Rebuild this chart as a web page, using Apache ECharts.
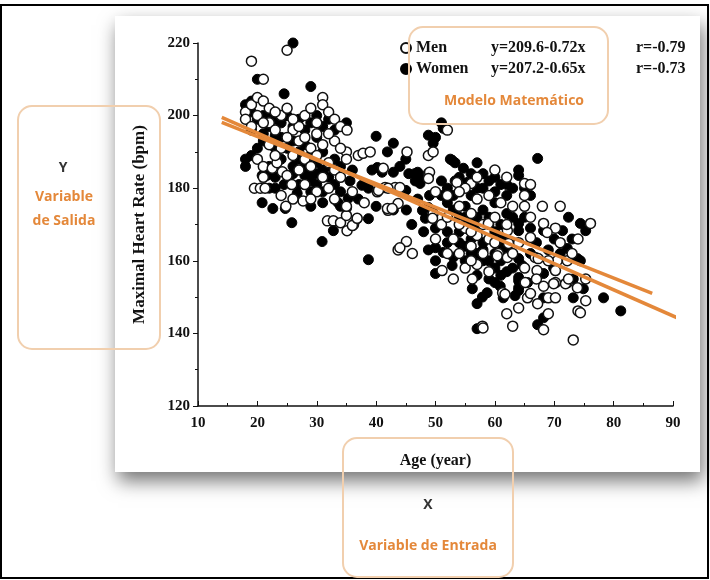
<!DOCTYPE html>
<html>
<head>
<meta charset="utf-8">
<script src="https://cdn.jsdelivr.net/npm/echarts@6/dist/echarts.min.js"></script>
<style>
    html, body { margin: 0; padding: 0; background: #fff; }
    #chart { width: 710px; height: 580px; }
</style>
</head>
<body>
<div id="chart"></div>
<script>
// data: [age, max heart rate]
const menPoints = [
    [25, 218], [19, 215], [21, 210], [31, 205], [31, 203], [18, 201], [19, 203], [20, 205], [21, 204], [22, 202],
    [20, 200], [22, 198], [23, 196], [24, 200], [25, 202], [26, 196], [27, 197], [28, 200], [29, 202], [30, 198],
    [32, 201], [33, 199], [34, 197], [25, 194], [27, 193], [29, 191], [31, 192], [33, 193], [22, 192], [20, 188],
    [21, 186], [19.5, 180], [20.5, 180], [21.3, 180], [22.5, 185.5], [23.3, 187], [24.2, 184.5], [25, 183.5], [25.8, 181], [24.8, 175],
    [27.7, 176.5], [27, 185], [28, 188], [29, 186], [30, 189], [32, 187], [33, 185], [31, 183], [30, 179], [28, 181],
    [32, 180], [34, 183], [31.8, 171], [32.8, 171], [34, 170.5], [35.1, 168.3], [36.2, 170], [36, 169.7], [36.8, 171.7], [35, 174.7],
    [35, 172.5], [35, 175], [35.1, 196], [35, 190], [35, 188], [37, 189], [37.8, 189.6], [39, 190], [40.2, 179], [41.5, 180.2],
    [43.2, 180.2], [42, 180], [40.4, 179.4], [44, 180.2], [41.2, 185.5], [42, 173.9], [43.7, 175.8], [41.9, 174.4], [42.7, 174.4], [43.7, 163],
    [45.1, 165.3], [46.1, 162], [44, 163.6], [45.2, 190], [48.8, 189], [49.6, 190], [48.8, 184], [49, 184.4], [48.8, 182.7], [52, 196],
    [53.6, 181.6], [56, 181.3], [49.6, 173], [49.5, 171.7], [51.1, 157.3], [53, 155], [56.2, 155], [57.9, 142], [58, 141.5], [55, 180],
    [57, 177], [54, 175], [56, 173], [58, 170], [55, 169], [57, 167], [53, 166], [51, 170], [59, 166], [58.9, 170.3],
    [62.1, 168.3], [62.3, 164.8], [60.6, 162], [60.4, 161.4], [62.1, 160.9], [66.8, 160.9], [67.3, 160.6], [70.5, 160], [72.2, 160], [65, 181.3],
    [65, 178], [65, 175], [66, 181], [62, 183], [60, 185], [71, 175], [68.2, 170.3], [70.2, 169], [68.8, 167.8], [76.1, 170.3],
    [74, 166], [66, 166.4], [67.1, 157.3], [70.2, 157.3], [68.2, 153], [70.2, 154], [72.2, 154], [75.3, 155], [71.9, 153.7], [69.9, 153.7],
    [61.3, 151.2], [61.7, 150.8], [62, 145.4], [63, 142], [68.2, 141], [69, 149.8], [70.2, 149.8], [67.2, 148.2], [69, 145.4], [75.3, 149],
    [74, 146.2], [74.4, 145.7], [73.2, 138.2], [72.4, 155], [73.9, 152.6], [65.1, 154], [65.5, 149.8], [56, 164], [54, 162], [57, 159],
    [59, 157], [55, 158], [18, 199], [19, 197], [21, 198], [23, 201], [26, 199], [24, 191], [26, 189], [28, 194],
    [30, 195], [32, 195], [34, 191], [23, 189], [21, 183], [24, 178], [26, 177], [29, 177], [33, 177], [36, 179],
    [38, 176], [50, 179], [52, 178], [54, 179], [57, 183], [59, 178], [61, 176], [63, 175], [60, 172], [52, 172],
    [54, 170], [56, 168], [58, 162], [60, 165], [62, 170], [64, 165], [66, 172], [68, 175], [50, 166], [52, 162],
    [56, 160], [63, 162], [65, 158], [67, 155], [69, 160], [71, 165], [73, 162], [64, 147], [66, 151]
]
const womenPoints = [
    [26, 220], [20, 210], [29, 208], [24.5, 206], [19, 204], [18, 203], [19, 201], [20, 199], [21, 200], [22, 201],
    [23, 199], [24, 198], [22, 197], [25, 200], [26, 197], [27, 199], [28, 196], [29, 198], [30, 200], [31, 197],
    [32, 199], [33, 196], [30, 194], [28, 192], [26, 193], [24, 194], [23, 191], [21, 193], [20, 191], [19, 189],
    [18, 188], [18, 186], [20.8, 183.5], [21.6, 183.5], [22, 180], [23, 180], [24.5, 181], [25.3, 182], [26.7, 178.6], [20.8, 176],
    [22.6, 174.4], [24.7, 174.4], [25.8, 170.5], [29, 175], [30.9, 165.3], [32.8, 168.3], [28, 186], [29, 184], [30, 187], [31, 185],
    [32, 183], [30, 181], [31, 179], [29, 182], [33, 188], [34, 186], [27, 188], [26, 186], [33, 181], [35, 198],
    [33.6, 176], [34, 175], [35.3, 177.2], [35.6, 182], [36.8, 171.6], [38.7, 171.6], [37.6, 180.8], [38.7, 180], [39.3, 185], [40.2, 185.7],
    [41, 184.4], [42.9, 184.4], [40, 194.3], [42.9, 192.4], [41.9, 190], [40, 175], [42.9, 174], [45.1, 174], [45, 179.4], [38.7, 160.3],
    [45.5, 184], [46.5, 184], [47, 184.4], [48, 183], [46.6, 182], [47.4, 181.3], [48.8, 194.6], [50, 194], [49.6, 192.4], [51, 198],
    [51.3, 196.5], [52.5, 188], [52.8, 187.7], [53.3, 187], [54.7, 185.5], [57, 187], [51, 182], [53.3, 182], [55.4, 181.6], [47.8, 173.9],
    [48.3, 171.7], [48.8, 174.7], [48.8, 163], [50, 160], [50, 156.5], [50, 163.6], [51.3, 162.3], [52.8, 158.7], [52, 176], [53, 178],
    [54, 172], [55, 175], [56, 170], [54, 168], [56, 166], [55, 164], [57, 162], [58, 165], [53, 161], [52, 168],
    [56.2, 152.3], [57, 148.2], [57, 141.3], [57.9, 150], [60, 154], [60.9, 153], [61.4, 149.8], [63.4, 150.4], [64, 154.5], [64, 152.6],
    [58.7, 151.2], [64, 151.8], [67.2, 142.4], [68.2, 149.8], [68.2, 144.3], [73.2, 149.8], [78.3, 149.8], [81.2, 146.2], [74.9, 152.3], [73.2, 155],
    [68.2, 156.5], [64, 155.4], [65.5, 154], [69.9, 158], [73.9, 160.6], [72.2, 163.4], [74.4, 160], [61.3, 166.4], [61.3, 164.2], [62.1, 163.4],
    [64, 160.6], [64.6, 158.7], [66, 169], [64, 170.3], [64, 168.3], [68.2, 168.3], [72.4, 172], [74.4, 170.3], [75.3, 168.3], [71.4, 168.3],
    [64, 185], [64, 183.5], [67.2, 188.2], [58, 180], [59, 182], [60, 179], [61, 181], [62, 178], [63, 180], [60, 176],
    [58, 174], [62, 173], [59, 170], [57, 172], [60, 168], [66, 178], [65, 180], [57, 180], [56, 178], [45, 188],
    [44, 186], [58, 163], [59, 160], [60, 158], [62, 157], [61, 160], [19, 196], [21, 195], [23, 194.5], [25, 191],
    [27, 190], [29, 189], [31, 190], [24, 188], [22, 186], [26, 184], [28, 183.5], [30, 184], [32, 186], [23, 183],
    [27, 181], [29, 179], [31, 176], [34, 179], [36, 185], [37, 177], [52, 180], [54, 183], [56, 184], [58, 184],
    [60, 183], [62, 181], [51, 178], [53, 174], [55, 172], [57, 170], [59, 172], [61, 170], [63, 172], [65, 172],
    [52, 165], [54, 165], [56, 162], [58, 160], [60, 162], [62, 164], [55, 160], [57, 156], [59, 155], [61, 156],
    [63, 158], [66, 162], [67, 165], [69, 163], [70, 166], [71, 162], [73, 166], [48, 168], [46, 170], [50, 169],
    [49, 178], [47, 177]
]
// regression line end points (from the equations printed on the figure)
const menLine = [[14, 199.5], [91, 144.1]]
const womenLine = [[14, 198.1], [86.5, 151]]

const seriesNames = ['Men', 'Women']
const equations = { Men: 'y=209.6-0.72x', Women: 'y=207.2-0.65x' }
const rValues = { Men: 'r=-0.79', Women: 'r=-0.73' }

const xTicks = { min: 10, max: 90, interval: 10 }
const yTicks = { min: 120, max: 220, interval: 20 }

const serif = '"Liberation Serif", "DejaVu Serif", serif'
const sans = '"Open Sans", "Noto Sans", sans-serif'
const orange = '#e4883a'
const boxBorder = '#f1cfae'

const chart = echarts.init(document.getElementById('chart'))

chart.setOption({
    animation: false,
    grid: {
        left: 198,
        right: 37,
        top: 43,
        bottom: 174,
    },
    legend: {
        data: seriesNames,
        orient: 'vertical',
        left: 395,
        top: 35,
        itemWidth: 10,
        itemHeight: 10,
        itemGap: 5,
        formatter: name => `{n|${name}}{e|${equations[name]}}{r|${rValues[name]}}`,
        textStyle: {
            fontFamily: serif,
            fontWeight: 'bold',
            fontSize: 16,
            color: '#111',
            rich: {
                n: { width: 75, fontFamily: serif, fontWeight: 'bold', fontSize: 16 },
                e: { width: 145, fontFamily: serif, fontWeight: 'bold', fontSize: 16 },
                r: { fontFamily: serif, fontWeight: 'bold', fontSize: 16 },
            },
        },
    },
    xAxis: {
        type: 'value',
        min: xTicks.min,
        max: xTicks.max,
        interval: xTicks.interval,
        name: 'Age (year)',
        nameLocation: 'middle',
        nameGap: 47,
        nameTextStyle: { fontFamily: serif, fontWeight: 'bold', fontSize: 16, color: '#111' },
        axisLine: { onZero: false, lineStyle: { color: '#111', width: 1.5 } },
        axisTick: { inside: true, length: 5, lineStyle: { color: '#111' } },
        minorTick: { show: true, splitNumber: 2, length: 3, lineStyle: { color: '#111' } },
        splitLine: { show: false },
        axisLabel: { margin: 10, fontFamily: serif, fontWeight: 'bold', fontSize: 15, color: '#111' },
    },
    yAxis: {
        type: 'value',
        min: yTicks.min,
        max: yTicks.max,
        interval: yTicks.interval,
        name: 'Maximal Heart Rate (bpm)',
        nameLocation: 'middle',
        nameRotate: 90,
        nameGap: 50,
        nameTextStyle: { fontFamily: serif, fontWeight: 'bold', fontSize: 17, color: '#111' },
        axisLine: { show: true, onZero: false, lineStyle: { color: '#111', width: 1.5 } },
        axisTick: { show: true, length: 5, lineStyle: { color: '#111' } },
        minorTick: { show: true, splitNumber: 2, length: 3, lineStyle: { color: '#111' } },
        splitLine: { show: false },
        axisLabel: { margin: 8, fontFamily: serif, fontWeight: 'bold', fontSize: 15, color: '#111' },
    },
    series: [
        {
            name: 'Women',
            type: 'scatter',
            data: womenPoints,
            symbolSize: 10,
            itemStyle: { color: '#000', borderColor: '#000', borderWidth: 1, opacity: 1 },
            z: 3,
        },
        {
            name: 'Men',
            type: 'scatter',
            data: menPoints,
            symbolSize: 10,
            itemStyle: { color: '#fff', borderColor: '#111', borderWidth: 1.5, opacity: 1 },
            z: 3,
        },
        {
            name: 'menFit',
            type: 'line',
            data: menLine,
            symbol: 'none',
            lineStyle: { color: orange, width: 3.5 },
            z: 5,
        },
        {
            name: 'womenFit',
            type: 'line',
            data: womenLine,
            symbol: 'none',
            lineStyle: { color: orange, width: 3.5 },
            z: 5,
        },
    ],
    graphic: [
        // outer frame
        {
            type: 'rect',
            z: -20,
            shape: { x: 1, y: 5, width: 707, height: 573 },
            style: { fill: '#fff', stroke: '#000', lineWidth: 2 },
        },
        // paper card with shadow
        {
            type: 'rect',
            z: -10,
            shape: { x: 115, y: 16, width: 585, height: 456 },
            style: {
                fill: '#fff',
                shadowBlur: 18,
                shadowColor: 'rgba(0,0,0,0.55)',
                shadowOffsetX: 3,
                shadowOffsetY: 9,
            },
        },
        // Y box
        {
            type: 'rect',
            z: 100,
            shape: { x: 18, y: 106, width: 142, height: 243, r: 14 },
            style: { fill: 'transparent', stroke: boxBorder, lineWidth: 2 },
        },
        { type: 'text', z: 100, x: 63, y: 168, style: { text: 'Y', fill: '#333', font: `bold 14px ${sans}`, textAlign: 'center', textVerticalAlign: 'middle' } },
        { type: 'text', z: 100, x: 64, y: 197, style: { text: 'Variable', fill: orange, font: `bold 14px ${sans}`, textAlign: 'center', textVerticalAlign: 'middle' } },
        { type: 'text', z: 100, x: 64, y: 221, style: { text: 'de Salida', fill: orange, font: `bold 14px ${sans}`, textAlign: 'center', textVerticalAlign: 'middle' } },
        // model box
        {
            type: 'rect',
            z: 100,
            shape: { x: 409, y: 27, width: 199, height: 97, r: 14 },
            style: { fill: 'transparent', stroke: boxBorder, lineWidth: 2 },
        },
        { type: 'text', z: 100, x: 514, y: 101, style: { text: 'Modelo Matemático', fill: orange, font: `bold 14px ${sans}`, textAlign: 'center', textVerticalAlign: 'middle' } },
        // X box
        {
            type: 'rect',
            z: 100,
            shape: { x: 343, y: 438, width: 170, height: 139, r: 14 },
            style: { fill: 'transparent', stroke: boxBorder, lineWidth: 2 },
        },
        { type: 'text', z: 100, x: 428, y: 505, style: { text: 'X', fill: '#333', font: `bold 14px ${sans}`, textAlign: 'center', textVerticalAlign: 'middle' } },
        { type: 'text', z: 100, x: 428, y: 546, style: { text: 'Variable de Entrada', fill: orange, font: `bold 14px ${sans}`, textAlign: 'center', textVerticalAlign: 'middle' } },
    ],
})
</script>
</body>
</html>
